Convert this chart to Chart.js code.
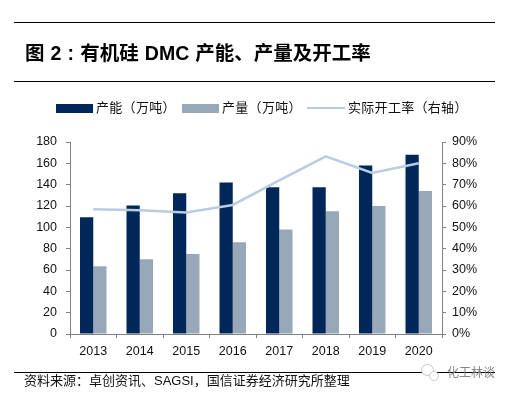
<!DOCTYPE html>
<html>
<head>
<meta charset="utf-8">
<script src="https://cdn.jsdelivr.net/npm/chart.js@4/dist/chart.umd.min.js"></script>
<style>
  html, body { margin: 0; padding: 0; background: #fff; }
  #wrap { position: relative; width: 510px; height: 395px; overflow: hidden;
    font-family: "Liberation Sans", "Noto Sans CJK SC", sans-serif; color: #111; }
  #wrap canvas { position: absolute; left: 0; top: 0; }
  .rule { position: absolute; left: 14px; width: 481px; height: 1px; background: #000; }
  .txt { position: absolute; white-space: nowrap; }
  #title { left: 25px; top: 40px; font-size: 19.5px; font-weight: bold; line-height: 26px; color: #000; word-spacing: 0.7px; }
  #source { left: 24px; top: 373px; font-size: 13px; line-height: 16px; }
  #mark { left: 447px; top: 365px; font-size: 12px; line-height: 16px; color: #888; }
  .bubble { position: absolute; border: 1px solid #ccc; border-radius: 50%; background: #fff; }
  .swatch { position: absolute; }
  .lg { font-size: 13px; line-height: 16px; top: 100px; letter-spacing: 0.3px; }
</style>
</head>
<body>
<div id="wrap">
  <canvas id="chart" width="510" height="395"></canvas>
  <div class="rule" style="top:22px"></div>
  <div class="rule" style="top:81px"></div>
  <div class="rule" style="top:372px"></div>
  <div class="txt" id="title">图 2 : 有机硅 DMC 产能、产量及开工率</div>
  <div id="legend"></div>
  <div class="txt" id="source">资料来源：卓创资讯、SAGSI，国信证券经济研究所整理</div>
  <div class="bubble" style="left:421px;top:364px;width:11px;height:10px"></div>
  <div class="bubble" style="left:429px;top:371px;width:8px;height:8px"></div>
  <div class="txt" id="mark">化工林谈</div>
</div>
<script>
const years = ['2013', '2014', '2015', '2016', '2017', '2018', '2019', '2020'];
const capacity = [109.5, 120.5, 132, 142, 137.5, 137.5, 158, 168];
const output = [63.5, 70, 75, 86, 98, 115, 120, 134];
const utilisation = [58.5, 58, 57, 60.5, 72, 83.3, 75.5, 80];

const navy = '#00275a';
const grey = '#98a8b9';
const pale = '#b8cce4';
const axisGrey = '#808080';
const tickFont = { family: 'Liberation Sans', size: 12.5 };

function legendItem(left, swatch, text) {
  const box = document.createElement('div');
  box.className = 'swatch';
  box.style.cssText = `left:${left}px;top:${swatch.top}px;width:${swatch.w}px;height:${swatch.h}px;background:${swatch.c}`;
  const label = document.createElement('div');
  label.className = 'txt lg';
  label.style.left = (left + swatch.w + 3) + 'px';
  label.textContent = text;
  document.getElementById('legend').append(box, label);
}
legendItem(56, { top: 104, w: 37, h: 9, c: navy }, '产能（万吨）');
legendItem(182, { top: 104, w: 37, h: 9, c: grey }, '产量（万吨）');
legendItem(307, { top: 107, w: 38, h: 2, c: pale }, '实际开工率（右轴）');

new Chart(document.getElementById('chart'), {
  type: 'bar',
  data: {
    labels: years,
    datasets: [
      { type: 'line', label: '实际开工率（右轴）', data: utilisation, yAxisID: 'y2',
        borderColor: pale, borderWidth: 2.5, pointRadius: 0, tension: 0, order: 0 },
      { label: '产能（万吨）', data: capacity, backgroundColor: navy, yAxisID: 'y',
        categoryPercentage: 0.57, barPercentage: 1, order: 1 },
      { label: '产量（万吨）', data: output, backgroundColor: grey, yAxisID: 'y',
        categoryPercentage: 0.57, barPercentage: 1, order: 1 }
    ]
  },
  options: {
    responsive: false,
    animation: false,
    layout: { padding: { top: 142, bottom: 0, left: 0, right: 0 } },
    plugins: { legend: { display: false }, tooltip: { enabled: false } },
    scales: {
      x: {
        offset: true,
        afterFit: (s) => { s.height = 61; },
        grid: { drawOnChartArea: false, color: axisGrey, tickLength: 4, offset: true },
        border: { color: axisGrey },
        ticks: { color: '#111', font: tickFont, padding: 6, maxRotation: 0 }
      },
      y: {
        position: 'left', min: 0, max: 180,
        afterFit: (s) => { s.width = 70; },
        grid: { drawOnChartArea: false, color: axisGrey, tickLength: 4 },
        border: { color: axisGrey },
        ticks: { stepSize: 20, color: '#111', font: tickFont, padding: 9 }
      },
      y2: {
        position: 'right', min: 0, max: 90,
        afterFit: (s) => { s.width = 68; },
        grid: { drawOnChartArea: false, color: axisGrey, tickLength: 4 },
        border: { color: axisGrey },
        ticks: { stepSize: 10, color: '#111', font: tickFont, padding: 6,
          callback: (v) => v + '%' }
      }
    }
  }
});
</script>
</body>
</html>
